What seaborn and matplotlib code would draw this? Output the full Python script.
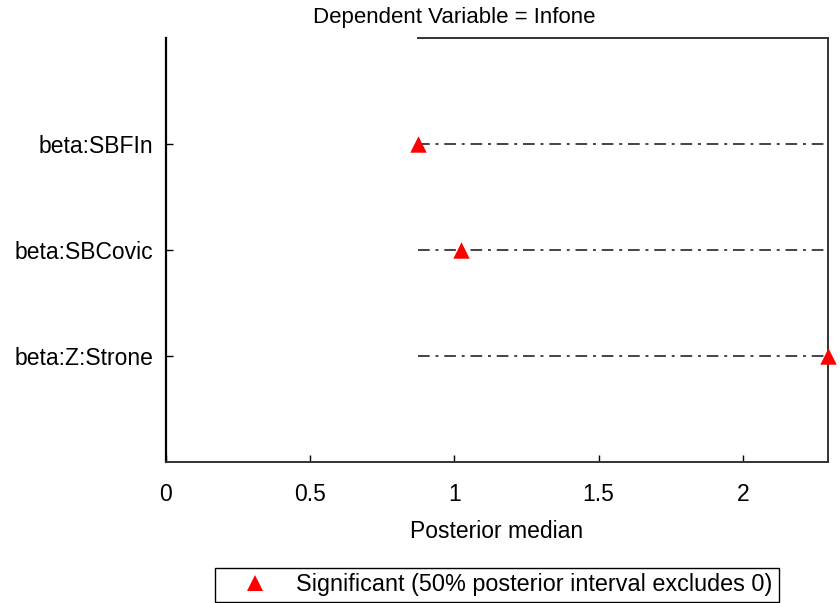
import matplotlib
matplotlib.use("Agg")
import matplotlib.pyplot as plt
import seaborn as sns
import pandas as pd
from matplotlib.lines import Line2D
from matplotlib.patches import Rectangle

categories = ["beta:SBFIn", "beta:SBCovic", "beta:Z:Strone"]
medians = [0.873, 1.023, 2.295]
lower = [0.873, 0.873, 0.873]
upper = [2.30, 2.30, 2.30]
xticks = [0, 0.5, 1, 1.5, 2]
xtick_labels = ["0", "0.5", "1", "1.5", "2"]

sns.set_theme(style="white")
plt.rcParams['font.family'] = ['Liberation Sans', 'DejaVu Sans']

FS = 16.5

df = pd.DataFrame({"param": categories, "median": medians, "lo": lower, "hi": upper,
                   "pos": [1, 2, 3]})

fig = plt.figure(figsize=(8.4, 6.03), dpi=100)
ax = fig.add_axes([166/840, 1-462/603, (828-166)/840, (462-38)/603])

ax.hlines(df["pos"], df["lo"], df["hi"], colors="#444444", linestyles=(0, (6, 3, 1.5, 3)),
          linewidth=1.4, zorder=2)
sns.scatterplot(data=df, x="median", y="pos", marker="^", color="#ff0000", s=140,
                edgecolor="#ff0000", linewidth=0, ax=ax, zorder=3, clip_on=False, legend=False)

ax.set_xlim(0, 2.295)
ax.set_ylim(4, 0)
ax.set_yticks(df["pos"])
ax.set_yticklabels(categories)
ax.set_xticks(xticks)
ax.set_xticklabels(xtick_labels)
ax.tick_params(axis="both", direction="in", length=5, width=1, labelsize=FS, colors="black",
               left=True, bottom=True)
ax.tick_params(axis="x", pad=15)
ax.tick_params(axis="y", pad=9)
ax.set_xlabel("Posterior median", fontsize=FS, labelpad=10, color="black")
ax.set_ylabel("")

for side in ["left", "bottom", "right", "top"]:
    ax.spines[side].set_visible(True)
ax.spines["left"].set_color("black")
ax.spines["left"].set_linewidth(1.6)
ax.spines["bottom"].set_color("#333333")
ax.spines["bottom"].set_linewidth(1.4)
ax.spines["right"].set_color("#333333")
ax.spines["right"].set_linewidth(1.4)
ax.spines["top"].set_color("#333333")
ax.spines["top"].set_linewidth(1.4)
ax.spines["top"].set_bounds(0.873, 2.295)

fig.text(454/840, 1-18/603, "Dependent Variable = Infone", ha="center", va="center",
         fontsize=16, color="black")

# legend frame
fig.patches.append(Rectangle((215/840, 1-602/603), (779-215)/840, (602-568)/603,
                             transform=fig.transFigure, fill=False, edgecolor="black",
                             linewidth=1.0))
handle = Line2D([], [], marker="^", color="#ff0000", linestyle="None", markersize=11,
                markeredgewidth=0)
leg = fig.legend([handle], ["Significant (50% posterior interval excludes 0)"],
                 loc="center left", bbox_to_anchor=(229/840, 1-585/603), fontsize=16.8,
                 frameon=False, borderpad=0, handlelength=2.2, handletextpad=0.65,
                 borderaxespad=0)
for t in leg.get_texts():
    t.set_color("black")

fig.savefig("out.png", dpi=100)
